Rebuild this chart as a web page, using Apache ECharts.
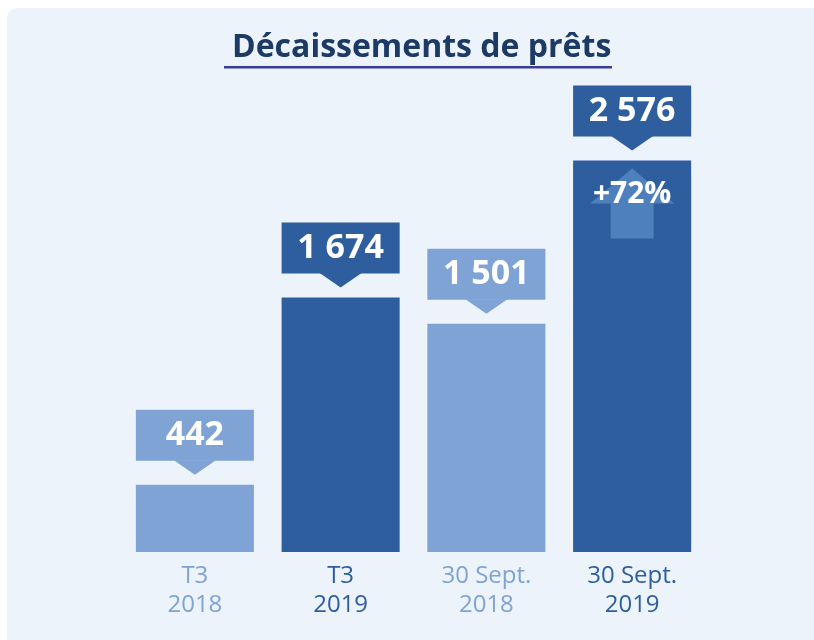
<!DOCTYPE html>
<html>
<head>
<meta charset="utf-8">
<script src="https://cdn.jsdelivr.net/npm/echarts@6/dist/echarts.min.js"></script>
<style>
  html, body { margin: 0; padding: 0; background: #fff; }
  #chart { width: 814px; height: 640px; }
</style>
</head>
<body>
<div id="chart"></div>
<script>
const categories = ['T3\n2018', 'T3\n2019', '30 Sept.\n2018', '30 Sept.\n2019'];
const values = [442, 1674, 1501, 2576];
const valueLabels = ['442', '1 674', '1 501', '2 576'];
const growthIndex = 3;
const growthLabel = '+72%';

const LIGHT = '#7FA3D5';
const DARK = '#2E5E9E';
const barColors = [LIGHT, DARK, LIGHT, DARK];
const FONT = '"Open Sans", "Noto Sans", sans-serif';

const chart = echarts.init(document.getElementById('chart'));

// callout box + pointer above each bar
function renderCallout (params, api) {
  const idx = api.value(0);
  const p = api.coord([idx, api.value(1)]);
  const w = api.size([1, 0])[0] * 0.81;
  const color = barColors[idx];
  return {
    type: 'group',
    children: [
      {
        type: 'rect',
        shape: { x: p[0] - w / 2, y: p[1] - 75, width: w, height: 51 },
        style: { fill: color }
      },
      {
        type: 'polygon',
        shape: { points: [[p[0] - 21, p[1] - 24.5], [p[0] + 21, p[1] - 24.5], [p[0], p[1] - 10]] },
        style: { fill: color }
      },
      {
        type: 'text',
        x: p[0],
        y: p[1] - 49.5,
        style: {
          text: valueLabels[idx],
          fill: '#fff',
          font: 'bold 34px ' + FONT,
          align: 'center',
          verticalAlign: 'middle'
        }
      }
    ]
  };
}

// up arrow with growth rate inside the last bar
function renderArrow (params, api) {
  const p = api.coord([api.value(0), api.value(1)]);
  const x = p[0];
  const t = p[1];
  return {
    type: 'group',
    children: [
      {
        type: 'polygon',
        shape: {
          points: [
            [x, t + 8], [x + 42, t + 43], [x + 21.5, t + 43], [x + 21.5, t + 78],
            [x - 21.5, t + 78], [x - 21.5, t + 43], [x - 42, t + 43]
          ]
        },
        style: { fill: '#4F80BE' }
      },
      {
        type: 'text',
        x: x,
        y: t + 34,
        style: {
          text: growthLabel,
          fill: '#fff',
          font: 'bold 30px ' + FONT,
          align: 'center',
          verticalAlign: 'middle'
        }
      }
    ]
  };
}

const option = {
  backgroundColor: '#fff',
  animation: false,
  title: {
    text: 'Décaissements de prêts',
    left: 227,
    top: 23,
    textStyle: {
      color: '#1C3A66',
      fontFamily: FONT,
      fontWeight: 'bold',
      fontSize: 32,
      lineHeight: 40
    }
  },
  graphic: [
    {
      type: 'rect',
      z: -10,
      shape: { x: 7, y: 8, width: 830, height: 660, r: [10, 0, 0, 0] },
      style: { fill: '#ECF3FA' }
    },
    {
      type: 'rect',
      left: 224,
      top: 66,
      shape: { width: 388, height: 2.5 },
      style: { fill: '#3A3C9C' }
    }
  ],
  grid: {
    left: 122,
    right: 109,
    top: 96,
    bottom: 88
  },
  xAxis: {
    type: 'category',
    data: categories,
    axisLine: { show: false },
    axisTick: { show: false },
    axisLabel: {
      margin: 10,
      fontFamily: FONT,
      fontSize: 24,
      lineHeight: 29,
      color: function (value, index) {
        return barColors[index];
      }
    }
  },
  yAxis: {
    type: 'value',
    min: 0,
    max: 3000,
    show: false,
    splitLine: { show: false }
  },
  series: [
    {
      type: 'bar',
      barWidth: '81%',
      data: values.map(function (v, i) {
        return { value: v, itemStyle: { color: barColors[i] } };
      })
    },
    {
      type: 'custom',
      clip: false,
      z: 3,
      renderItem: renderCallout,
      data: values.map(function (v, i) { return [i, v]; })
    },
    {
      type: 'custom',
      clip: false,
      z: 4,
      renderItem: renderArrow,
      data: [[growthIndex, values[growthIndex]]]
    }
  ]
};

chart.setOption(option);
</script>
</body>
</html>
